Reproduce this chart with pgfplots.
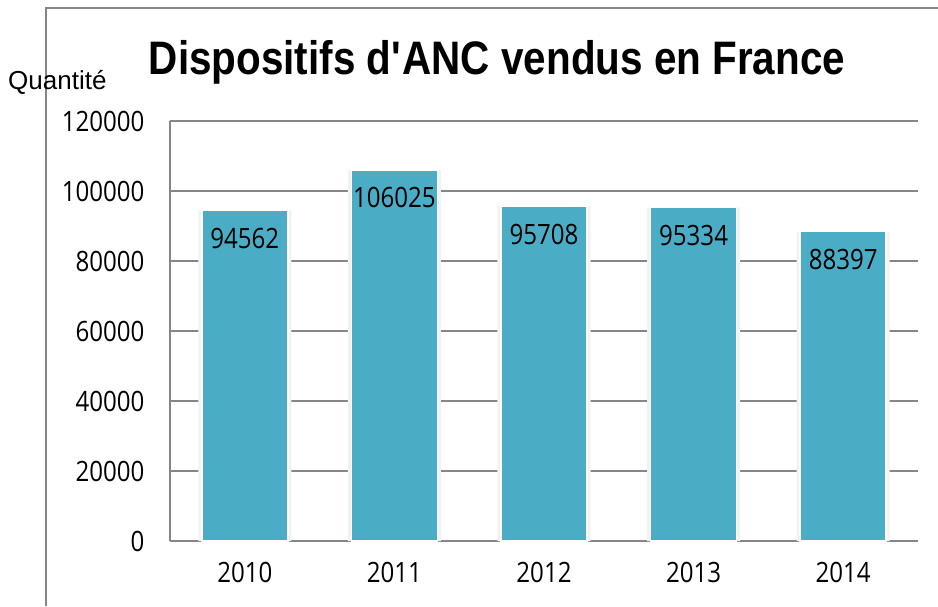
\documentclass[border=0pt]{standalone}
\usepackage{fontspec}
\setmainfont{Open Sans}[FakeStretch=0.86]
\newfontfamily\qfont{Liberation Sans}
\newfontfamily\titlefont{Liberation Sans}[FakeStretch=0.86]
\usepackage{pgfplots}
\pgfplotsset{compat=1.18}
\definecolor{barc}{HTML}{4BACC6}
\definecolor{gridc}{HTML}{868686}
\begin{document}
\begin{tikzpicture}
\path[use as bounding box] (0pt,0pt) rectangle (938pt,-606pt);
\draw[gridc, line width=1.5pt] (46pt,-606pt) -- (46pt,-8pt) -- (938pt,-8pt);
\begin{axis}[
  at={(170pt,-541pt)}, anchor=south west,
  width=748pt, height=420pt, scale only axis,
  xmin=-0.5, xmax=4.5, ymin=0, ymax=120000,
  ytick={0,20000,40000,60000,80000,100000,120000},
  xtick={0,1,2,3,4}, xticklabels={2010,2011,2012,2013,2014},
  scaled y ticks=false,
  /pgf/number format/.cd, fixed, 1000 sep={}, assume math mode=true, /pgfplots/.cd,
  axis x line*=bottom, axis y line*=left,
  axis line style={gridc, line width=1.5pt, -},
  ymajorgrids, grid style={gridc, line width=1.5pt},
  major tick length=0pt,
  tick label style={font=\fontsize{28}{30}\selectfont, black},
  yticklabel style={xshift=-22pt},
  xticklabel style={yshift=-18pt},
  ybar, bar shift=0pt,
]
\addplot[fill=black!5, draw=none, bar width=93pt, forget plot] coordinates {
 (0,94562) (1,106025) (2,95708) (3,95334) (4,88397)};
\addplot[fill=barc, draw=white, line width=1.5pt, bar width=86pt,
  nodes near coords,
  every node near coord/.append style={font=\fontsize{28}{30}\selectfont, black, anchor=center, yshift=-28pt}] coordinates {
 (0,94562) (1,106025) (2,95708) (3,95334) (4,88397)};
\end{axis}
\node[anchor=base, font=\titlefont\bfseries\fontsize{47}{50}\selectfont] at (497pt,-74pt) {Dispositifs d\textquotesingle ANC vendus en France};
\node[anchor=base west, inner sep=0pt, font=\qfont\fontsize{26}{28}\selectfont] at (8pt,-89pt) {Quantité};
\end{tikzpicture}
\end{document}
